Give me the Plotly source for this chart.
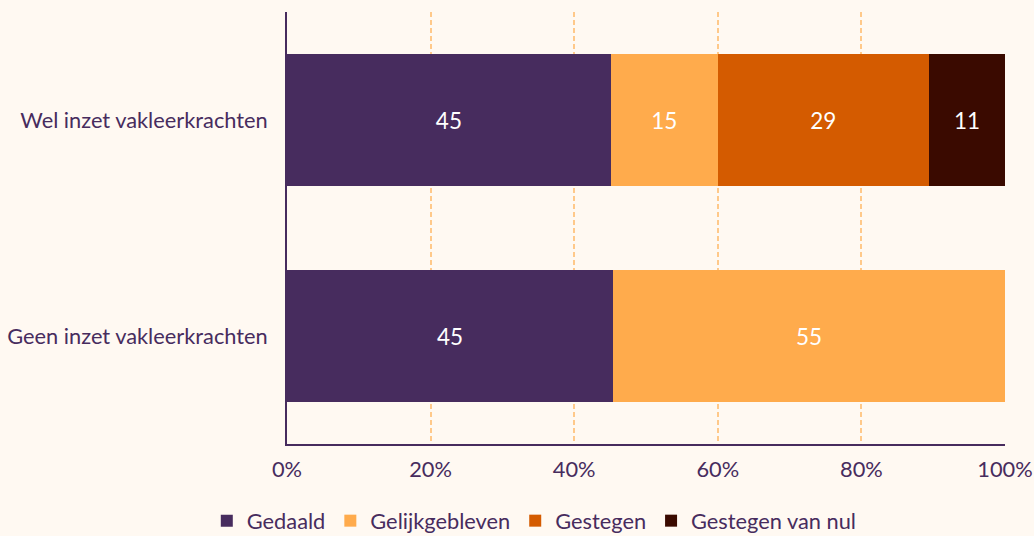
import plotly.graph_objects as go

categories = ["Wel inzet vakleerkrachten", "Geen inzet vakleerkrachten"]
series_names = ["Gedaald", "Gelijkgebleven", "Gestegen", "Gestegen van nul"]
gedaald = [45.1, 45.4]
gelijk = [14.9, 54.6]
gestegen = [29.4, None]
gestegen_nul = [10.6, None]
colors = ["#472C5E", "#FFAB4C", "#D45B00", "#3A0A00"]
tick_vals = [0, 20, 40, 60, 80, 100]
tick_text = ["0%", "20%", "40%", "60%", "80%", "100%"]

FONT = "Lato, 'Open Sans', sans-serif"
TEXTC = "#472C5E"
FS = 21.8

fig = go.Figure()
for name, vals, col in zip(series_names, [gedaald, gelijk, gestegen, gestegen_nul], colors):
    fig.add_trace(go.Bar(
        y=categories, x=vals, name=name, orientation="h",
        marker=dict(color=col, line=dict(width=0)),
        text=[f"{v:.0f}" if v is not None else "" for v in vals],
        textposition="inside", insidetextanchor="middle",
        textfont=dict(color="white", size=22.5, family=FONT),
        hoverinfo="x+name",
    ))

fig.update_layout(
    barmode="stack", bargap=0.39,
    width=1034, height=536,
    paper_bgcolor="#FFF9F2", plot_bgcolor="#FFF9F2",
    margin=dict(l=287, r=29, t=12, b=92, autoexpand=False),
    font=dict(family=FONT, color=TEXTC, size=FS),
    showlegend=True,
    legend=dict(orientation="h", xref="container", yref="container",
                x=0.2, xanchor="left", y=0.028, yanchor="middle",
                font=dict(size=FS, color=TEXTC), traceorder="normal",
                itemwidth=30, bgcolor="rgba(0,0,0,0)"),
    xaxis=dict(range=[0, 100], tickvals=tick_vals, ticktext=tick_text,
               showgrid=True, gridcolor="#FFC98A", griddash="5px,3px", gridwidth=1.5,
               zeroline=False, showline=True, linecolor=TEXTC, linewidth=1.8,
               automargin=False,
               ticks="", ticklabelstandoff=5, tickfont=dict(size=FS, color=TEXTC)),
    yaxis=dict(autorange="reversed", showline=True, linecolor=TEXTC, linewidth=1.8,
               showgrid=False, ticks="", ticklabelstandoff=13, automargin=False,
               tickfont=dict(size=FS, color=TEXTC)),
)

fig.write_html(
    "out.html",
    config={"displayModeBar": False},
    post_script="document.body.style.margin='0';document.body.style.overflow='hidden';",
)
